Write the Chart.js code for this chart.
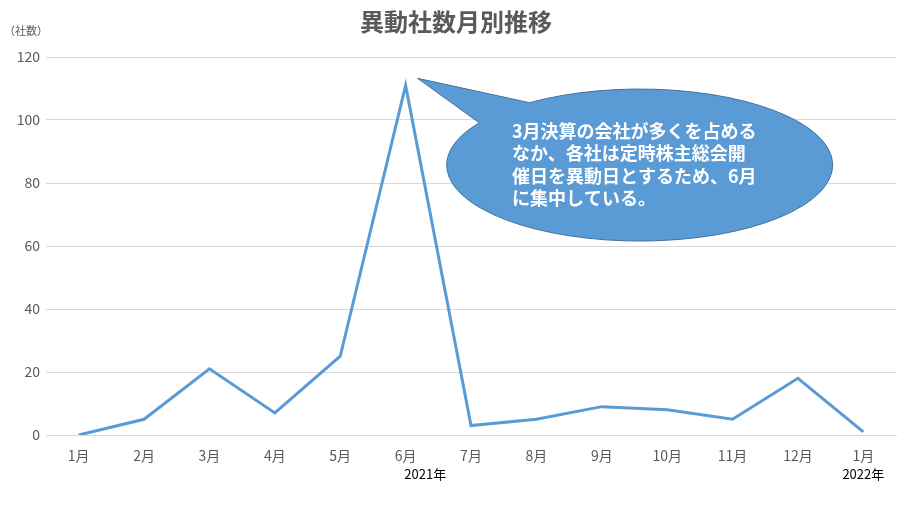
<!DOCTYPE html>
<html>
<head>
<meta charset="utf-8">
<script src="https://cdn.jsdelivr.net/npm/chart.js@4"></script>
<style>
  html, body { margin: 0; padding: 0; background: #fff; }
  #wrap { width: 907px; height: 507px; }
</style>
</head>
<body>
<div id="wrap"><canvas id="chart" width="907" height="507"></canvas></div>
<script>
// データ
const months = ['1月', '2月', '3月', '4月', '5月', '6月', '7月', '8月', '9月', '10月', '11月', '12月', '1月'];
const counts = [0, 5, 21, 7, 25, 111, 3, 5, 9, 8, 5, 18, 1];
const yMin = 0;
const yMax = 120;
const yStep = 20;
const yearNames = ['2021年', '2022年'];
const yearPos = [5.3, 12]; // カテゴリ位置（6月と7月の間、最後の1月）
const chartTitle = '異動社数月別推移';
const yUnit = '（社数）';
const calloutLines = [
  '3月決算の会社が多くを占める',
  'なか、各社は定時株主総会開',
  '催日を異動日とするため、6月',
  'に集中している。'
];

const labelFont = "'Liberation Sans Narrow', 'Noto Sans CJK JP', sans-serif";
const jpFont = "'Noto Sans CJK JP', sans-serif";

// タイトル・単位・年ラベル・吹き出し
const extras = {
  id: 'extras',
  afterDraw(chart) {
    const ctx = chart.ctx;
    const x = chart.scales.x;
    const y = chart.scales.y;
    ctx.save();

    // タイトル
    ctx.fillStyle = '#595959';
    ctx.font = "bold 24px " + jpFont;
    ctx.textAlign = 'center';
    ctx.textBaseline = 'middle';
    ctx.fillText(chartTitle, 456, 22);

    // 単位
    ctx.font = "11px " + jpFont;
    ctx.textAlign = 'left';
    ctx.fillText(yUnit, 4, 31);

    // 年ラベル
    ctx.fillStyle = '#000';
    ctx.font = "13px " + labelFont;
    ctx.textAlign = 'center';
    yearNames.forEach((name, i) => {
      ctx.fillText(name, x.getPixelForValue(yearPos[i]), 474);
    });

    // 吹き出し（6月の点を指す）
    const tipX = x.getPixelForValue(5) + 12;
    const tipY = y.getPixelForValue(counts[5]) - 7;
    const cx = x.getPixelForValue(8.58);
    const cy = y.getPixelForValue(85.7);
    const rx = 193, ry = 76;
    const t1 = Math.atan2((103 - cy) / ry, (530 - cx) / rx);
    const t2 = Math.atan2((123 - cy) / ry, (480 - cx) / rx);
    ctx.beginPath();
    ctx.ellipse(cx, cy, rx, ry, 0, t1, t2 + 2 * Math.PI, false);
    ctx.lineTo(tipX, tipY);
    ctx.closePath();
    ctx.fillStyle = '#5B9BD5';
    ctx.fill();
    ctx.lineWidth = 1;
    ctx.strokeStyle = '#41719C';
    ctx.stroke();

    ctx.fillStyle = '#fff';
    ctx.font = "bold 18px " + jpFont;
    ctx.textAlign = 'left';
    ctx.textBaseline = 'middle';
    calloutLines.forEach((line, i) => {
      ctx.fillText(line, 512, 131 + i * 22.5);
    });
    ctx.restore();
  }
};

new Chart(document.getElementById('chart'), {
  type: 'line',
  data: {
    labels: months,
    datasets: [{
      data: counts,
      borderColor: '#5B9BD5',
      borderWidth: 3,
      pointRadius: 0,
      tension: 0,
      fill: false
    }]
  },
  options: {
    responsive: false,
    animation: false,
    layout: { padding: { left: 0, right: 11, top: 57, bottom: 0 } },
    plugins: {
      legend: { display: false },
      tooltip: { enabled: false }
    },
    scales: {
      x: {
        offset: true,
        grid: { display: false, drawTicks: false },
        border: { color: '#D9D9D9', width: 1 },
        ticks: {
          color: '#595959',
          padding: 12,
          maxRotation: 0,
          autoSkip: false,
          font: { family: labelFont, size: 14 }
        },
        afterFit(scale) { scale.height = 72; }
      },
      y: {
        min: yMin,
        max: yMax,
        grid: { color: '#D9D9D9', drawTicks: false },
        border: { display: false },
        ticks: {
          stepSize: yStep,
          color: '#595959',
          padding: 6,
          font: { family: labelFont, size: 14 }
        },
        afterFit(scale) { scale.width = 46; }
      }
    }
  },
  plugins: [extras]
});
</script>
</body>
</html>
